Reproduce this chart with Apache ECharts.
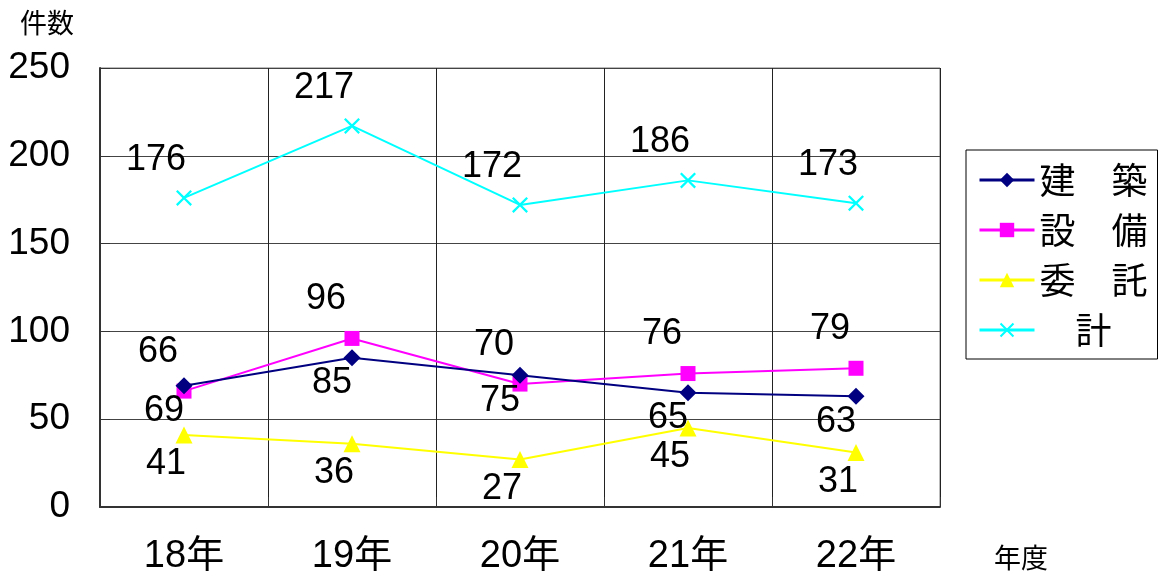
<!DOCTYPE html>
<html>
<head>
<meta charset="utf-8">
<script src="https://cdn.jsdelivr.net/npm/echarts@6/dist/echarts.min.js"></script>
<style>
html,body{margin:0;padding:0;background:#fff;}
#c{width:1164px;height:581px;}
</style>
</head>
<body>
<div id="c"></div>
<script>
const categories = ['18年', '19年', '20年', '21年', '22年'];
const kenchiku = [69, 85, 75, 65, 63];
const setsubi = [66, 96, 70, 76, 79];
const itaku = [41, 36, 27, 45, 31];
const total = [176, 217, 172, 186, 173];
const seriesNames = ['建　築', '設　備', '委　託', '　計'];
const yTicks = [0, 50, 100, 150, 200, 250];

const FONT = "'Liberation Sans', 'Noto Sans CJK JP', sans-serif";
const CJK = "'Noto Sans CJK JP', sans-serif";
const crossPath = 'path://M0,1L1,0L5,4L9,0L10,1L6,5L10,9L9,10L5,6L1,10L0,9L4,5Z';

function lbl(pos, off) {
  return { show: true, position: pos, offset: off, color: '#000', fontSize: 36, fontFamily: FONT };
}

const chart = echarts.init(document.getElementById('c'), null, { renderer: 'canvas' });
chart.setOption({
  animation: false,
  backgroundColor: '#fff',
  textStyle: { fontFamily: FONT },
  grid: { left: 100, right: 224, top: 68, bottom: 74, show: true, borderColor: '#777', borderWidth: 1 },
  legend: {
    orient: 'vertical', left: 966, top: 150,
    padding: [12, 10, 11, 12],
    borderColor: '#000', borderWidth: 1,
    itemWidth: 55, itemHeight: 18, itemGap: 14,
    lineStyle: { width: 3 },
    textStyle: { fontSize: 36, color: '#000', fontFamily: CJK },
    data: seriesNames
  },
  xAxis: {
    type: 'category', data: categories, boundaryGap: true,
    axisLine: { lineStyle: { color: '#333', width: 2 } },
    axisTick: { show: true, inside: true, length: 10, lineStyle: { color: '#333', width: 1 } },
    splitLine: { show: true, lineStyle: { color: '#222', width: 1 } },
    axisLabel: { fontSize: 38, color: '#000', margin: 31, fontFamily: FONT }
  },
  yAxis: {
    type: 'value', min: 0, max: 250, interval: 50,
    axisLine: { show: true, lineStyle: { color: '#333', width: 2 } },
    axisTick: { show: true, inside: true, length: 10, lineStyle: { color: '#333' } },
    splitLine: { show: true, lineStyle: { color: '#444', width: 1 } },
    axisLabel: { fontSize: 37, color: '#000', margin: 30, fontFamily: FONT,
      formatter: v => yTicks.includes(v) ? String(v) : '' }
  },
  graphic: [
    { type: 'text', left: 20, top: 9, style: { text: '件数', fontSize: 27, fill: '#000', fontFamily: CJK } },
    { type: 'text', left: 994, top: 544, style: { text: '年度', fontSize: 27, fill: '#000', fontFamily: CJK } }
  ],
  series: [
    { name: seriesNames[0], type: 'line', data: kenchiku, color: '#000080',
      symbol: 'diamond', symbolSize: 17, lineStyle: { width: 2 },
      label: lbl('bottom', [-20, -6]), z: 4 },
    { name: seriesNames[1], type: 'line', data: setsubi, color: '#FF00FF',
      symbol: 'rect', symbolSize: 15, lineStyle: { width: 2 },
      label: lbl('top', [-26, -9]), z: 3 },
    { name: seriesNames[2], type: 'line', data: itaku, color: '#FFFF00',
      symbol: 'triangle', symbolSize: 17, lineStyle: { width: 2 },
      label: lbl('bottom', [-18, -2]), z: 2 },
    { name: seriesNames[3], type: 'line', data: total, color: '#00FFFF',
      symbol: crossPath, symbolSize: 16, lineStyle: { width: 2 },
      label: lbl('top', [-28, -7]), z: 1 }
  ]
});
</script>
</body>
</html>
